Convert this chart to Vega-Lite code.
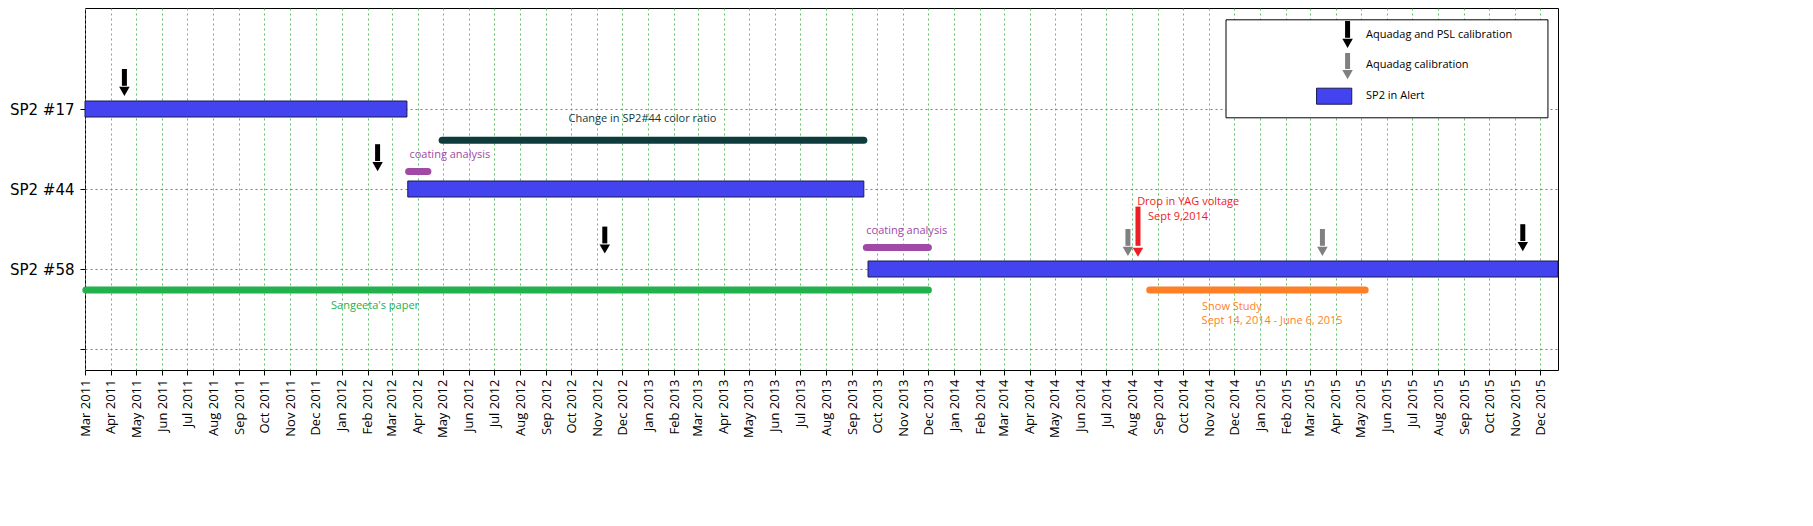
{
"$schema":"https://vega.github.io/schema/vega-lite/v6.json",
"autosize":"none","width":1473,"height":362,
"padding":{"left":85,"top":8,"right":255,"bottom":156},
"background":"white",
"config":{"view":{"stroke":"black","strokeWidth":1},"font":"Open Sans"},
"encoding":{
 "x":{"field":"start","type":"temporal","scale":{"type":"utc","domain":[{"year":2011,"month":3,"date":1,"utc":true},{"year":2015,"month":12,"date":22,"utc":true}]},
  "axis":{"title":null,"format":"%b %Y","labelAngle":-90,"labelAlign":"right","labelBaseline":"middle","labelFontSize":13,"labelColor":"black","tickCount":{"interval":"month","step":1},"grid":true,"gridDash":[2,3],"gridColor":"#3cb043","gridOpacity":0.8,"domain":false,"tickColor":"black","labelPadding":4,"labelOverlap":false,"labelFlush":false}},
 "y":{"field":"y","type":"quantitative","scale":{"domain":[-0.2,4.2],"nice":false,"zero":false},
  "axis":{"title":null,"values":[0,1,2,3],"labelExpr":"datum.value==3?'SP2 #17':datum.value==2?'SP2 #44':datum.value==1?'SP2 #58':''","labelFontSize":15,"labelFont":"DejaVu Sans","labelColor":"black","grid":true,"gridDash":[2,3],"gridColor":"#3cb043","domain":false,"tickColor":"black","labelPadding":6}}
},
"layer":[
 {"data":{"values":[{"start":"2014-11-21","end":"2015-12-10","y":4.115,"y2":2.89}]},
  "mark":{"type":"rect","fill":"white","stroke":"black","strokeWidth":1},
  "encoding":{"x2":{"field":"end"},"y2":{"field":"y2"}}},
 {"data":{"values":[
   {"task":"SP2 #17","start":"2011-03-01","end":"2012-03-19","y":3},
   {"task":"SP2 #44","start":"2012-03-20","end":"2013-09-15","y":2},
   {"task":"SP2 #58","start":"2013-09-20","end":"2015-12-22","y":1},
   {"task":"legend","start":"2015-03-09","end":"2015-04-20","y":3.16}]},
  "mark":{"type":"bar","height":16,"color":"#4343f0","stroke":"#1a1a50","strokeWidth":1},
  "encoding":{"x2":{"field":"end"}}},
 {"data":{"values":[
   {"name":"color ratio","start":"2012-04-30","end":"2013-09-15","y":2.61,"c":"#0e3b3b"},
   {"name":"coating1","start":"2012-03-21","end":"2012-04-13","y":2.22,"c":"#a04aa6"},
   {"name":"coating2","start":"2013-09-18","end":"2013-12-01","y":1.27,"c":"#a04aa6"},
   {"name":"Sangeeta","start":"2011-03-02","end":"2013-12-01","y":0.736,"c":"#22b14c"},
   {"name":"Snow","start":"2014-08-22","end":"2015-05-06","y":0.736,"c":"#ff7f27"}]},
  "mark":{"type":"rule","strokeWidth":7,"strokeCap":"round"},
  "encoding":{"x2":{"field":"end"},"color":{"field":"c","type":"nominal","scale":null}}},
 {"data":{"values":[
   {"start":"2011-04-17","y":3.5,"y2":3.29,"yh":3.22,"c":"black"},
   {"start":"2012-02-13","y":2.56,"y2":2.35,"yh":2.28,"c":"black"},
   {"start":"2012-11-10","y":1.53,"y2":1.32,"yh":1.25,"c":"black"},
   {"start":"2014-07-27","y":1.5,"y2":1.29,"yh":1.22,"c":"#808080"},
   {"start":"2014-08-08","y":1.78,"y2":1.29,"yh":1.21,"c":"#ee1c25"},
   {"start":"2015-03-16","y":1.5,"y2":1.29,"yh":1.22,"c":"#808080"},
   {"start":"2015-11-10","y":1.56,"y2":1.35,"yh":1.28,"c":"black"},
   {"start":"2015-04-15","y":4.1,"y2":3.89,"yh":3.82,"c":"black"},
   {"start":"2015-04-15","y":3.7,"y2":3.5,"yh":3.43,"c":"#808080"}]},
  "layer":[
   {"mark":{"type":"rule","strokeWidth":5},"encoding":{"y2":{"field":"y2"},"color":{"field":"c","type":"nominal","scale":null}}},
   {"mark":{"type":"point","shape":"triangle-down","filled":true,"size":110,"opacity":1},"encoding":{"y":{"field":"yh","type":"quantitative"},"color":{"field":"c","type":"nominal","scale":null}}}
  ]},
 {"data":{"values":[
   {"t":"Aquadag and PSL calibration","start":"2015-05-07","y":3.93,"c":"black","a":"left"},
   {"t":"Aquadag calibration","start":"2015-05-07","y":3.55,"c":"black","a":"left"},
   {"t":"SP2 in Alert","start":"2015-05-07","y":3.16,"c":"black","a":"left"},
   {"t":"Change in SP2#44 color ratio","start":"2012-12-25","y":2.88,"c":"#0e3b3b","a":"center"},
   {"t":"coating analysis","start":"2012-03-22","y":2.43,"c":"#a04aa6","a":"left"},
   {"t":"coating analysis","start":"2013-09-18","y":1.47,"c":"#a04aa6","a":"left"},
   {"t":"Drop in YAG voltage","start":"2014-08-07","y":1.84,"c":"#ee1c25","a":"left"},
   {"t":"Sept 9,2014","start":"2014-08-20","y":1.65,"c":"#ee1c25","a":"left"},
   {"t":"Sangeeta's paper","start":"2012-02-10","y":0.54,"c":"#22b14c","a":"center"},
   {"t":"Snow Study","start":"2014-11-28","y":0.53,"c":"#ff7f27","a":"center"},
   {"t":"Sept 14, 2014 - June 6, 2015","start":"2015-01-15","y":0.35,"c":"#ff7f27","a":"center"}]},
  "layer":[
   {"transform":[{"filter":"datum.a=='left'"}],"mark":{"type":"text","align":"left","baseline":"middle","fontSize":11},
    "encoding":{"text":{"field":"t"},"color":{"field":"c","type":"nominal","scale":null}}},
   {"transform":[{"filter":"datum.a=='center'"}],"mark":{"type":"text","align":"center","baseline":"middle","fontSize":11},
    "encoding":{"text":{"field":"t"},"color":{"field":"c","type":"nominal","scale":null}}}
  ]}
]
}
